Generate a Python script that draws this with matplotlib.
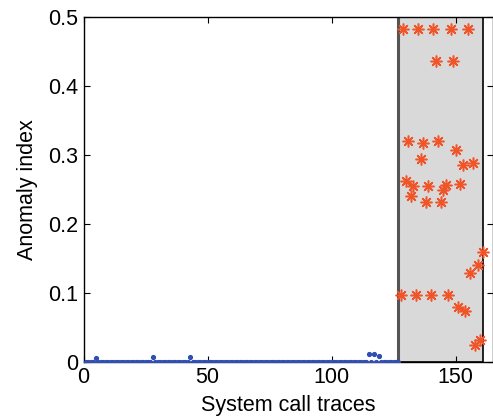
import numpy as np
import matplotlib
matplotlib.use('Agg')
import matplotlib.pyplot as plt

plt.rcParams['font.family'] = ['Liberation Sans', 'DejaVu Sans']

# normal traces (blue), mostly zero with a few small bumps
normal_x = np.arange(1, 128)
normal_y = np.zeros(len(normal_x))
bumps = {5: 0.005, 28: 0.007, 43: 0.007, 115: 0.011, 117: 0.011, 119: 0.008}
for k, v in bumps.items():
    normal_y[k - 1] = v

# anomalous traces (red asterisks)
anom_x = np.arange(128, 162)
anom_y = [0.097, 0.483, 0.263, 0.320, 0.241, 0.255, 0.097, 0.483, 0.294, 0.317,
          0.232, 0.255, 0.097, 0.483, 0.436, 0.320, 0.232, 0.249, 0.256, 0.097,
          0.483, 0.436, 0.307, 0.079, 0.258, 0.286, 0.074, 0.483, 0.129, 0.289,
          0.024, 0.140, 0.032, 0.159]

span = (127, 161)
xticks = [0, 50, 100, 150]
yticks = [0, 0.1, 0.2, 0.3, 0.4, 0.5]
ytick_labels = ['0', '0.1', '0.2', '0.3', '0.4', '0.5']

fig = plt.figure(figsize=(4.93, 4.16), dpi=100)
ax = fig.add_axes([0.1694, 0.1305, 0.83, 0.828])

ax.axvspan(span[0], span[1], facecolor='#d9d9d9', edgecolor='black', linewidth=1.2, zorder=0)
ax.axvline(span[0], color='#555555', linewidth=2.2, zorder=1)

ax.plot(normal_x, normal_y, linestyle='none', marker='.', markersize=5.5,
        color='#2f4fb5', zorder=3)
ax.plot(anom_x, anom_y, linestyle='none', marker=(8, 2, 0), markersize=8.5,
        markeredgewidth=1.1, color='#f0552a', zorder=4)

ax.set_xlim(0, 165)
ax.set_ylim(0, 0.5)
ax.set_xticks(xticks)
ax.set_yticks(yticks)
ax.set_yticklabels(ytick_labels)
ax.tick_params(direction='in', top=True, right=True, length=4, labelsize=15.5, width=0.8, pad=4)
for s in ax.spines.values():
    s.set_linewidth(1.0)

ax.set_xlabel('System call traces', fontsize=15.5, labelpad=5)
ax.set_ylabel('Anomaly index', fontsize=15.5, labelpad=7)

fig.savefig('out.png', dpi=100)
